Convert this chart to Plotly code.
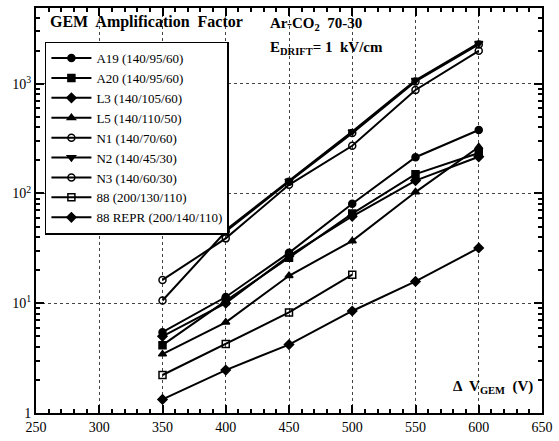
import plotly.graph_objects as go

voltage = [350, 400, 450, 500, 550, 600]

a19 = [5.45, 11.4, 28.8, 80.7, 214, 379]
a20 = [4.15, 10.5, 26.0, 65.6, 150, 234]
l3 = [5.0, 10.0, 27.0, 62.0, 131, 216]
l5 = [3.44, 6.7, 17.8, 37.0, 103, 265]
n1 = [16.3, 39.0, 120, 272, 877, 1996]
n2 = [None, 46.5, 130, 366, 1077, 2340]
n3 = [10.6, 45.0, 128, 355, 1050, 2280]
s88 = [2.22, 4.26, 8.24, 18.2, None, None]
s88r = [1.33, 2.46, 4.2, 8.5, 15.8, 31.9]

series = [
    ("A19 (140/95/60)", a19, "circle"),
    ("A20 (140/95/60)", a20, "square"),
    ("L3 (140/105/60)", l3, "diamond"),
    ("L5 (140/110/50)", l5, "triangle-up"),
    ("N1 (140/70/60)", n1, "circle-open"),
    ("N2 (140/45/30)", n2, "triangle-down"),
    ("N3 (140/60/30)", n3, "circle-open"),
    ("88 (200/130/110)", s88, "square-open"),
    ("88 REPR (200/140/110)", s88r, "diamond"),
]

x_ticks = [250, 300, 350, 400, 450, 500, 550, 600, 650]
y_tickvals = [1, 10, 100, 1000]
y_ticktext = ["1", "10<sup>1</sup>", "10<sup>2</sup>", "10<sup>3</sup>"]

SERIF = "Liberation Serif"

fig = go.Figure()
for name, vals, sym in series:
    fig.add_trace(go.Scatter(
        x=voltage, y=vals, name=name, mode="lines+markers",
        connectgaps=True,
        line=dict(color="black", width=2),
        marker=dict(symbol=sym, size=7, color="black",
                    line=dict(color="black", width=1.5)),
    ))

minor_y = [m * 10 ** e for e in range(0, 4) for m in range(2, 10)]
minor_x = [v for v in range(250, 651, 10) if v % 50 != 0]

fig.update_layout(
    width=559, height=441,
    margin=dict(l=36, r=12, t=6, b=23),
    paper_bgcolor="white", plot_bgcolor="white",
    font=dict(family=SERIF, size=14, color="black"),
    showlegend=True,
    legend=dict(x=0.0176, y=0.917, xanchor="left", yanchor="top",
                bgcolor="white", bordercolor="black", borderwidth=1.5,
                font=dict(family=SERIF, size=13), itemwidth=40,
                tracegroupgap=0),
    xaxis=dict(range=[250, 650], tickvals=x_ticks,
               ticks="inside", ticklen=8, tickwidth=1.5, tickcolor="black",
               showline=True, linecolor="black", linewidth=2, mirror="allticks",
               showgrid=True, gridcolor="#444", griddash="dot", gridwidth=1,
               zeroline=False, tickfont=dict(family=SERIF, size=14),
               minor=dict(tickvals=minor_x, ticks="inside", ticklen=4,
                          tickcolor="black", showgrid=False)),
    yaxis=dict(type="log", range=[0, 3.69], tickvals=y_tickvals,
               ticktext=y_ticktext,
               ticks="inside", ticklen=8, tickwidth=1.5, tickcolor="black",
               showline=True, linecolor="black", linewidth=2, mirror="allticks",
               showgrid=True, gridcolor="#444", griddash="dot", gridwidth=1,
               zeroline=False, tickfont=dict(family=SERIF, size=14),
               minor=dict(tickvals=minor_y, ticks="inside", ticklen=4,
                          tickcolor="black", showgrid=False)),
    annotations=[
        dict(text="<b>GEM  Amplification  Factor</b>", x=0.0235, y=0.966,
             xref="paper", yref="paper", xanchor="left", yanchor="middle",
             showarrow=False, font=dict(family=SERIF, size=16)),
        dict(text="<b>Ar-CO<sub>2</sub>  70-30</b>", x=0.458, y=0.961,
             xref="paper", yref="paper", xanchor="left", yanchor="middle",
             showarrow=False, font=dict(family=SERIF, size=15)),
        dict(text="<b>E<sub>DRIFT</sub>= 1  kV/cm</b>", x=0.458, y=0.90,
             xref="paper", yref="paper", xanchor="left", yanchor="middle",
             showarrow=False, font=dict(family=SERIF, size=15)),
        dict(text="<b>Δ  V<sub>GEM</sub>  (V)</b>", x=0.82, y=0.063,
             xref="paper", yref="paper", xanchor="left", yanchor="middle",
             showarrow=False, font=dict(family=SERIF, size=15)),
    ],
)

fig.write_html("out.html")
